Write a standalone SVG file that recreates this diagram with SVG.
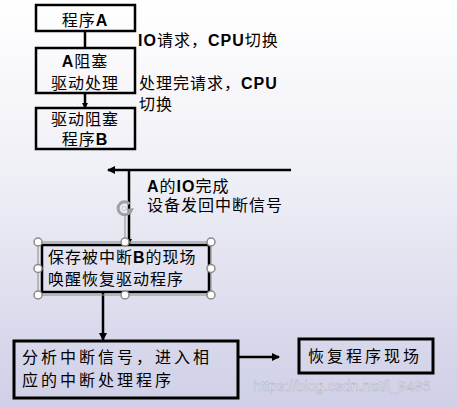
<svg xmlns="http://www.w3.org/2000/svg" width="457" height="407" viewBox="0 0 457 407">
<defs>
<linearGradient id="bg" x1="0" y1="0" x2="0" y2="1">
<stop offset="0" stop-color="#ffffff"/>
<stop offset="0.45" stop-color="#eeeef6"/>
<stop offset="1" stop-color="#cfcfe7"/>
</linearGradient>
<marker id="ah" markerWidth="8" markerHeight="8" refX="7" refY="4" orient="auto" markerUnits="userSpaceOnUse">
<path d="M0,0 L8,4 L0,8 Z" fill="#000"/>
</marker>
<marker id="ahs" markerWidth="6" markerHeight="6" refX="5" refY="3" orient="auto" markerUnits="userSpaceOnUse">
<path d="M0,0 L6,3 L0,6 Z" fill="#000"/>
</marker>
</defs>
<style>
.box{fill:none;stroke:#000;stroke-width:2.5}
.bbox{fill:none;stroke:#000;stroke-width:3}
.t{font-family:"Noto Sans CJK SC","Liberation Sans",sans-serif;font-size:16px;fill:#000;letter-spacing:1px}
.w{letter-spacing:3px}
.b{font-family:"Liberation Sans",Arial,sans-serif;font-weight:bold}
.c{text-anchor:middle}
.ln{fill:none;stroke:#000;stroke-width:2.5}
.h{fill:#fff;stroke:#8a8a8a;stroke-width:1.5}
.wm{font-family:"Liberation Sans",Arial,sans-serif;font-size:14.5px;fill:#f6f6fb;stroke:#b4b4c8;stroke-width:0.6}
</style>
<rect x="0" y="0" width="457" height="407" fill="url(#bg)"/>

<g id="connectors">
<line class="ln" x1="85" y1="31" x2="85" y2="48"/>
<line class="ln" x1="85" y1="93" x2="85" y2="108" marker-end="url(#ahs)"/>
<line class="ln" x1="291" y1="170" x2="108" y2="170" marker-end="url(#ah)"/>
<line class="ln" x1="129" y1="170" x2="129" y2="244" marker-end="url(#ahs)"/>
<line class="ln" x1="103" y1="293" x2="103" y2="340" marker-end="url(#ah)"/>
<line class="ln" x1="238" y1="357" x2="279" y2="357" marker-end="url(#ah)"/>
</g>

<g id="progA">
<rect class="box" x="36" y="5" width="99" height="26"/>
<text class="t c" x="85" y="26">程序<tspan class="b">A</tspan></text>
</g>

<g id="label-io">
<text class="t" x="138" y="46"><tspan class="b">IO</tspan>请求，<tspan class="b">CPU</tspan>切换</text>
</g>

<g id="blockA">
<rect class="box" x="36" y="48" width="99" height="45"/>
<text class="t c" x="85" y="66.5"><tspan class="b">A</tspan>阻塞</text>
<text class="t c" x="85" y="88.5">驱动处理</text>
</g>

<g id="label-done">
<text class="t" x="139" y="89">处理完请求，<tspan class="b">CPU</tspan></text>
<text class="t" x="139" y="110">切换</text>
</g>

<g id="progB">
<rect class="box" x="36" y="108" width="99" height="41"/>
<text class="t c" x="85" y="125">驱动阻塞</text>
<text class="t c" x="85" y="145">程序<tspan class="b">B</tspan></text>
</g>

<g id="label-intr">
<text class="t" x="147" y="191.5"><tspan class="b">A</tspan>的<tspan class="b">IO</tspan>完成</text>
<text class="t" x="147" y="211">设备发回中断信号</text>
</g>

<g id="save">
<line x1="125" y1="215" x2="125" y2="239" stroke="#8a8a8a" stroke-width="1"/>
<path d="M129.5,204 A6.5,6.5 0 1 0 130,212" fill="none" stroke="#a0a0a0" stroke-width="3"/>
<path d="M126.5,209 L134,208 L130.5,215 Z" fill="#a0a0a0"/>
<circle cx="124" cy="208.5" r="2.2" fill="none" stroke="#c8c8c8" stroke-width="1"/>
<rect x="38" y="242" width="173" height="53" fill="none" stroke="#8a8a8a" stroke-width="1"/>
<rect class="box" x="42" y="245" width="167" height="47"/>
<text class="t" x="48" y="262.5">保存被中断<tspan class="b">B</tspan>的现场</text>
<text class="t" x="48" y="284.5">唤醒恢复驱动程序</text>
<circle class="h" cx="38" cy="242" r="4"/>
<circle class="h" cx="125" cy="242" r="4"/>
<circle class="h" cx="211" cy="242" r="4"/>
<circle class="h" cx="38" cy="268.5" r="4"/>
<circle class="h" cx="211" cy="268.5" r="4"/>
<circle class="h" cx="38" cy="295" r="4"/>
<circle class="h" cx="125" cy="295" r="4"/>
<circle class="h" cx="211" cy="295" r="4"/>
</g>

<g id="analyze">
<rect class="bbox" x="14" y="341" width="224" height="57"/>
<text class="t w" x="22" y="362.5">分析中断信号，进入相</text>
<text class="t w" x="22" y="386">应的中断处理程序</text>
</g>

<g id="restore">
<rect class="bbox" x="299" y="339" width="134" height="34"/>
<text class="t w" x="308" y="362">恢复程序现场</text>
</g>

<text class="wm" x="253" y="391">https://blog.csdn.net/l_9496</text>
</svg>
